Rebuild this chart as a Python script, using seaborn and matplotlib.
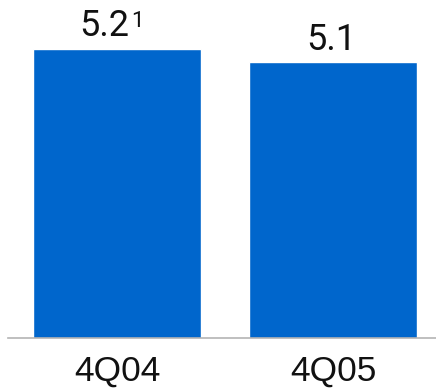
import matplotlib
matplotlib.use("Agg")
import matplotlib.pyplot as plt
import seaborn as sns
import pandas as pd

categories = ["4Q04", "4Q05"]
values = [5.2, 5.1]
footnotes = ["1", ""]

sns.set_theme(style="white")
plt.rcParams["font.family"] = ["Roboto", "DejaVu Sans"]

W, H, DPI = 436, 389, 100
fig = plt.figure(figsize=(W / DPI, H / DPI), dpi=DPI)
ax = fig.add_axes([8 / W, (H - 338) / H, 428 / W, 338 / H])

df = pd.DataFrame({"period": categories, "value": values})
sns.barplot(data=df, x="period", y="value", color="#0066CC", saturation=1,
            width=0.778, ax=ax)

ax.set_ylim(3.0, 3.0 + 338 / 131.4)
ax.set_xlim(-0.505, 1.477)

txt_color = "#111111"
for i, (v, note) in enumerate(zip(values, footnotes)):
    dx = -13 if note else -2
    ax.annotate(f"{v:.1f}", xy=(i, v), xytext=(dx, 12.5),
                textcoords="offset pixels", ha="center", va="baseline",
                fontsize=26, color=txt_color)
    if note:
        ax.annotate(note, xy=(i, v), xytext=(14, 22),
                    textcoords="offset pixels", ha="left", va="baseline",
                    fontsize=16, color=txt_color)

for s in ["top", "left", "right"]:
    ax.spines[s].set_visible(False)
ax.spines["bottom"].set_color("#B4B4B4")
ax.spines["bottom"].set_linewidth(1.2)
ax.set_yticks([])
ax.set_xlabel("")
ax.set_ylabel("")
ax.tick_params(axis="x", length=0, pad=12)
for t in ax.get_xticklabels():
    t.set_fontfamily(["Liberation Sans", "DejaVu Sans"])
    t.set_fontsize(25.5)
    t.set_color(txt_color)

fig.savefig("out.png", dpi=DPI)
